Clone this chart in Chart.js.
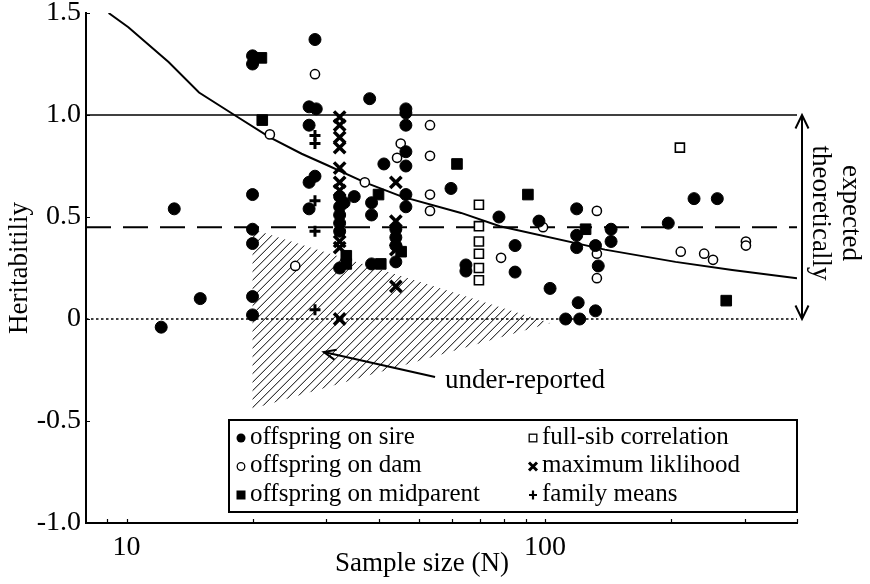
<!DOCTYPE html>
<html>
<head>
<meta charset="utf-8">
<script src="https://cdn.jsdelivr.net/npm/chart.js@4.4.1/dist/chart.umd.min.js"></script>
<style>
    html, body { margin: 0; padding: 0; background: #fff; }
    canvas { display: block; }
</style>
</head>
<body>
<canvas id="heritability-chart" width="870" height="584"></canvas>
<script>
// Offspring on sire (filled circles)
const sireN = [12.1, 13.0, 15.0, 20, 20, 20, 20, 20, 20, 20, 27.3, 28.2, 28.4, 27.3, 27.3, 28.2, 27.3,
    32.3, 32.3, 32.3, 32.3, 32.3, 32.3, 33.1, 35.0, 38.1, 41.2, 38.5, 38.5, 38.5,
    44.0, 44.0, 44.0, 44.0, 46.5, 46.5, 46.5, 46.5, 46.5, 46.5, 46.5, 59.6, 64.7, 64.7,
    77.6, 84.8, 84.8, 96.7, 102.8, 112, 119, 119, 119, 120, 121, 132, 134, 132, 143.8, 143.8,
    197, 227, 258];
const sireH = [-0.04, 0.54, 0.10, 1.29, 1.25, 0.61, 0.44, 0.37, 0.11, 0.02, 1.04, 1.37, 1.03, 0.95, 0.67, 0.70, 0.54,
    0.60, 0.55, 0.51, 0.47, 0.43, 0.25, 0.57, 0.60, 1.08, 0.76, 0.57, 0.51, 0.27,
    0.44, 0.40, 0.36, 0.28, 1.03, 1.01, 0.95, 0.82, 0.75, 0.61, 0.55, 0.64, 0.265, 0.235,
    0.50, 0.36, 0.23, 0.48, 0.15, 0.0, 0.54, 0.41, 0.35, 0.08, 0.0, 0.36, 0.26, 0.04, 0.44, 0.38,
    0.47, 0.59, 0.59];

// Offspring on dam (open circles)
const damN = [22, 25.3, 28.2, 37.1, 45.2, 44.3, 53.1, 53.1, 53.1, 53.1, 78.5, 98.9, 133, 133, 133, 211, 240, 252, 302, 302];
const damH = [0.905, 0.26, 1.20, 0.67, 0.86, 0.79, 0.95, 0.80, 0.61, 0.53, 0.30, 0.45, 0.53, 0.32, 0.20, 0.33, 0.32, 0.29, 0.38, 0.36];

// Offspring on midparent (filled squares)
const midN = [21, 21.1, 33.5, 33.5, 40.0, 40.5, 45.3, 61.6, 91, 125, 271];
const midH = [1.28, 0.975, 0.31, 0.27, 0.61, 0.27, 0.33, 0.76, 0.61, 0.44, 0.09];

// Full-sib correlation (open squares)
const sibN = [69.5, 69.5, 69.5, 69.5, 69.5, 69.5, 210];
const sibH = [0.56, 0.455, 0.38, 0.32, 0.25, 0.19, 0.84];

// Maximum likelihood (crosses)
const mlN = [32.3, 32.3, 32.3, 32.3, 32.3, 32.3, 32.3, 32.3, 32.3, 32.3, 44.0, 44.0, 44.0, 44.0];
const mlH = [0.99, 0.95, 0.89, 0.84, 0.74, 0.67, 0.63, 0.38, 0.35, 0.0, 0.67, 0.48, 0.34, 0.16];

// Family means (plus)
const famN = [28.2, 28.2, 28.2, 28.2, 28.2];
const famH = [0.90, 0.86, 0.58, 0.43, 0.045];

// Expected curve
const curveN = [9.06, 10.1, 12.6, 14.9, 18.1, 22, 26.2, 30.1, 37.1, 45.5, 63, 78, 139, 205, 280, 400];
const curveH = [1.50, 1.43, 1.26, 1.11, 1.00, 0.89, 0.81, 0.755, 0.67, 0.60, 0.52, 0.455, 0.34, 0.28, 0.24, 0.20];

// Reference levels
const lineSpan = [8, 400];
const upperLevel = 1.0;
const meanLevel = 0.45;
const zeroLevel = 0;

// Under-reported (hatched) region
const hatchN = [20, 103, 20];
const hatchH = [0.44, -0.02, -0.44];

// Axis ticks
const yTicks = [-1, -0.5, 0, 0.5, 1, 1.5];
const yTickLabels = ["-1.0", "-0.5", "0", "0.5", "1.0", "1.5"];
const xTicks = [10, 100];
const xTickLabels = ["10", "100"];
const xTickMarks = [9, 10, 20, 30, 40, 50, 60, 70, 80, 90, 100, 200, 300, 400];

const SERIF = "'Liberation Serif', 'Times New Roman', serif";

const pts = (xs, ys) => xs.map((v, i) => ({ x: v, y: ys[i] }));
const flat = (level) => lineSpan.map((v) => ({ x: v, y: level }));

Chart.defaults.color = "#000";
Chart.defaults.font.family = SERIF;

// Draw a marker in the legend
function legendMarker(ctx, style, x, y) {
    ctx.save();
    ctx.strokeStyle = "#000";
    ctx.fillStyle = "#000";
    ctx.beginPath();
    if (style === "sire") {
        ctx.arc(x, y, 4.5, 0, Math.PI * 2);
        ctx.fill();
    } else if (style === "dam") {
        ctx.lineWidth = 1.3;
        ctx.arc(x, y, 3.8, 0, Math.PI * 2);
        ctx.stroke();
    } else if (style === "mid") {
        ctx.fillRect(x - 4.5, y - 4.5, 9, 9);
    } else if (style === "sib") {
        ctx.lineWidth = 1.3;
        ctx.strokeRect(x - 3.8, y - 3.8, 7.6, 7.6);
    } else if (style === "ml") {
        ctx.lineWidth = 3;
        ctx.moveTo(x - 4, y - 4);
        ctx.lineTo(x + 4, y + 4);
        ctx.moveTo(x + 4, y - 4);
        ctx.lineTo(x - 4, y + 4);
        ctx.stroke();
    } else {
        ctx.lineWidth = 2.2;
        ctx.moveTo(x - 4, y);
        ctx.lineTo(x + 4, y);
        ctx.moveTo(x, y - 4.5);
        ctx.lineTo(x, y + 4.5);
        ctx.stroke();
    }
    ctx.restore();
}

function arrowHead(ctx, tx, ty, fx, fy, len, spread) {
    const a = Math.atan2(ty - fy, tx - fx);
    ctx.beginPath();
    ctx.moveTo(tx - len * Math.cos(a - spread), ty - len * Math.sin(a - spread));
    ctx.lineTo(tx, ty);
    ctx.lineTo(tx - len * Math.cos(a + spread), ty - len * Math.sin(a + spread));
    ctx.stroke();
}

const decorations = {
    id: "decorations",
    beforeDatasetsDraw(chart) {
        const { ctx, scales: { x, y } } = chart;
        // hatched region
        const px = hatchN.map((n) => x.getPixelForValue(n));
        const py = hatchH.map((h) => y.getPixelForValue(h));
        ctx.save();
        ctx.beginPath();
        px.forEach((v, i) => (i ? ctx.lineTo(v, py[i]) : ctx.moveTo(v, py[i])));
        ctx.closePath();
        ctx.clip();
        const x0 = Math.min(...px), x1 = Math.max(...px);
        const y0 = Math.min(...py), y1 = Math.max(...py);
        const h = y1 - y0;
        ctx.strokeStyle = "#000";
        ctx.lineWidth = 1;
        ctx.beginPath();
        for (let k = x0 - h; k < x1 + 2; k += 8.5) {
            ctx.moveTo(k, y1);
            ctx.lineTo(k + h, y0);
        }
        ctx.stroke();
        ctx.restore();
    },
    afterDraw(chart) {
        const { ctx, chartArea: area, scales: { x, y } } = chart;
        ctx.save();
        ctx.strokeStyle = "#000";
        ctx.fillStyle = "#000";

        // inward tick marks
        ctx.lineWidth = 1.2;
        ctx.beginPath();
        xTickMarks.forEach((n) => {
            const p = Math.round(x.getPixelForValue(n)) + 0.5;
            ctx.moveTo(p, area.bottom);
            ctx.lineTo(p, area.bottom - 4);
        });
        yTicks.forEach((v) => {
            const p = Math.round(y.getPixelForValue(v)) + 0.5;
            ctx.moveTo(area.left, p);
            ctx.lineTo(area.left + 4, p);
        });
        ctx.stroke();

        // double arrow: expected theoretically
        const ax = area.right + 5;
        const aTop = y.getPixelForValue(upperLevel);
        const aBot = y.getPixelForValue(zeroLevel);
        ctx.lineWidth = 2;
        ctx.beginPath();
        ctx.moveTo(ax, aTop);
        ctx.lineTo(ax, aBot);
        ctx.stroke();
        arrowHead(ctx, ax, aTop, ax, aBot, 15, 0.45);
        arrowHead(ctx, ax, aBot, ax, aTop, 15, 0.45);

        ctx.font = "27px " + SERIF;
        ctx.textAlign = "center";
        ctx.textBaseline = "middle";
        const midY = (aTop + aBot) / 2 - 4;
        [["expected", ax + 48], ["theoretically", ax + 18]].forEach(([t, cx]) => {
            ctx.save();
            ctx.translate(cx, midY);
            ctx.rotate(Math.PI / 2);
            ctx.fillText(t, 0, 0);
            ctx.restore();
        });

        // under-reported annotation
        const tipX = x.getPixelForValue(29.6), tipY = y.getPixelForValue(-0.162);
        const tailX = x.getPixelForValue(54.6), tailY = y.getPixelForValue(-0.284);
        ctx.lineWidth = 2;
        ctx.beginPath();
        ctx.moveTo(tailX, tailY);
        ctx.lineTo(tipX, tipY);
        ctx.stroke();
        arrowHead(ctx, tipX, tipY, tailX, tailY, 13, 0.4);
        ctx.textAlign = "left";
        ctx.fillText("under-reported", x.getPixelForValue(57.7), y.getPixelForValue(-0.305));

        // axis titles
        ctx.textAlign = "center";
        ctx.textBaseline = "alphabetic";
        ctx.fillText("Sample size (N)", 422, 571);
        ctx.save();
        ctx.translate(27, (area.top + area.bottom) / 2);
        ctx.rotate(-Math.PI / 2);
        ctx.fillText("Heritabitiliy", 0, 0);
        ctx.restore();

        // legend box
        const lx = 229, ly = 420, lw = area.right - lx, lh = 92;
        ctx.fillStyle = "#fff";
        ctx.fillRect(lx, ly, lw, lh);
        ctx.fillStyle = "#000";
        ctx.lineWidth = 2;
        ctx.strokeRect(lx, ly, lw, lh);
        ctx.font = "25px " + SERIF;
        ctx.textAlign = "left";
        ctx.textBaseline = "middle";
        const styles = ["sire", "dam", "mid", "sib", "ml", "fam"];
        chart.data.datasets.slice(0, 6).forEach((ds, i) => {
            const col = i < 3 ? 0 : 1;
            const row = i % 3;
            const mx = col ? 533 : 241;
            const my = ly + 17 + row * 28.5;
            legendMarker(ctx, styles[i], mx, my + 1);
            ctx.fillText(ds.label, mx + 9, my);
        });
        ctx.restore();
    },
};

const scatter = (label, xs, ys, extra) =>
    Object.assign({ label, data: pts(xs, ys), showLine: false, borderColor: "#000" }, extra);

const levelLine = (level, dash, width) => ({
    label: "level " + level,
    type: "line",
    data: flat(level),
    borderColor: "#000",
    borderWidth: width,
    borderDash: dash,
    pointRadius: 0,
    fill: false,
});

new Chart(document.getElementById("heritability-chart"), {
    type: "scatter",
    data: {
        datasets: [
            scatter("offspring on sire", sireN, sireH, {
                pointStyle: "circle", pointRadius: 6, backgroundColor: "#000", borderWidth: 1,
            }),
            scatter("offspring on dam", damN, damH, {
                pointStyle: "circle", pointRadius: 4.6, backgroundColor: "#fff", borderWidth: 1.5,
            }),
            scatter("offspring on midparent", midN, midH, {
                pointStyle: "rect", pointRadius: 7.5, backgroundColor: "#000", borderWidth: 1,
            }),
            scatter("full-sib correlation", sibN, sibH, {
                pointStyle: "rect", pointRadius: 6.4, backgroundColor: "#fff", borderWidth: 1.6,
            }),
            scatter("maximum liklihood", mlN, mlH, {
                pointStyle: "crossRot", pointRadius: 8, backgroundColor: "#000", borderWidth: 3.5,
            }),
            scatter("family means", famN, famH, {
                pointStyle: "cross", pointRadius: 5.5, backgroundColor: "#000", borderWidth: 3,
            }),
            {
                label: "expected",
                type: "line",
                data: pts(curveN, curveH),
                borderColor: "#000",
                borderWidth: 2,
                pointRadius: 0,
                tension: 0,
                fill: false,
            },
            levelLine(upperLevel, [], 1.5),
            levelLine(meanLevel, [25, 12], 2),
            levelLine(zeroLevel, [2.5, 2.5], 1.5),
        ],
    },
    options: {
        responsive: false,
        devicePixelRatio: 1,
        animation: false,
        events: [],
        layout: { padding: { top: 13, right: 73, left: 0, bottom: 0 } },
        plugins: {
            legend: { display: false },
            tooltip: { enabled: false },
        },
        scales: {
            x: {
                type: "logarithmic",
                min: 8,
                max: 400,
                grid: { display: false, drawTicks: false },
                border: { display: true, color: "#000", width: 2 },
                ticks: {
                    padding: 8,
                    font: { size: 28, family: SERIF },
                    color: "#000",
                    autoSkip: false,
                    maxRotation: 0,
                    callback: (v) => {
                        const i = xTicks.indexOf(v);
                        return i >= 0 ? xTickLabels[i] : "";
                    },
                },
                afterBuildTicks: (scale) => {
                    scale.ticks = xTicks.map((v) => ({ value: v }));
                },
                afterFit: (scale) => {
                    scale.height = 61;
                    scale.paddingLeft = 0;
                    scale.paddingRight = 0;
                },
            },
            y: {
                min: -1,
                max: 1.5,
                grid: { display: false, drawTicks: false },
                border: { display: true, color: "#000", width: 2 },
                ticks: {
                    padding: 5,
                    font: { size: 28, family: SERIF },
                    color: "#000",
                    callback: (v) => {
                        const i = yTicks.indexOf(v);
                        return i >= 0 ? yTickLabels[i] : "";
                    },
                },
                afterBuildTicks: (scale) => {
                    scale.ticks = yTicks.map((v) => ({ value: v }));
                },
                afterFit: (scale) => {
                    scale.width = 86;
                    scale.paddingTop = 0;
                    scale.paddingBottom = 0;
                },
            },
        },
    },
    plugins: [decorations],
});
</script>
</body>
</html>
